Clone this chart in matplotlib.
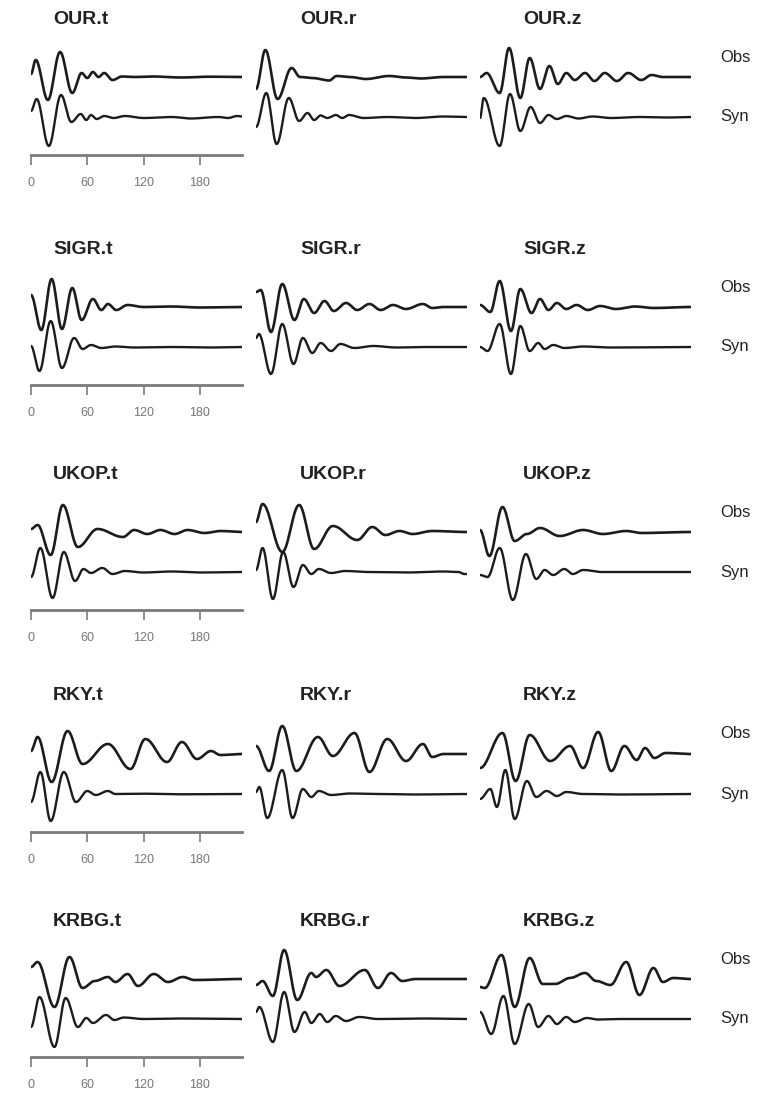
import numpy as np
import matplotlib
matplotlib.use("Agg")
import matplotlib.pyplot as plt

stations = ["OUR", "SIGR", "UKOP", "RKY", "KRBG"]
components = ["t", "r", "z"]
time_ticks = [0, 60, 120, 180]

# turning points (time in s, amplitude) of every trace
our_t_obs = [(0, 3), (5, 17), (18, -23), (31, 25), (44, -16), (54, 4), (60, -1), (66, 5), (72, 0), (78, 4),
             (87, -3), (97, 0.5), (110, 0), (130, 0.5), (160, -0.5), (190, 0.3), (225, 0)]
our_t_syn = [(0, 6), (6, 18), (19, -29), (32, 22), (43, -5), (53, 3), (59, -3), (64, 2), (70, -2), (78, 1),
             (88, -1), (100, 1), (120, -1), (150, 0), (170, -1.5), (200, 0), (210, -1), (220, 1), (225, 0.5)]
our_r_obs = [(0, -12), (10, 27), (23, -22), (38, 9), (47, 0), (60, -1), (78, -3.5), (86, 1), (100, 0),
             (117, -2), (142, 1), (160, -0.5), (175, -1.5), (200, 0), (225, 0)]
our_r_syn = [(0, -10), (11, 24), (22, -27), (35, 19), (46, -4), (55, 4), (62, -3), (69, 1.5), (76, -1), (85, 2),
             (92, -1), (99, 2), (115, -1), (140, 0), (170, -1), (200, 0.5), (225, 0)]
our_z_obs = [(0, 0), (7, 4), (21, -16), (31, 29), (43, -21), (53, 19), (64, -12), (74, 11), (83, -7), (92, 4),
             (101, -3), (112, 4), (122, -4), (133, 4), (146, -4), (158, 4), (172, -3), (183, 2), (195, 0), (225, 0)]
our_z_syn = [(0, -1), (4, 19), (21, -29), (32, 23), (43, -14), (54, 10), (64, -6), (73, 2), (82, -2), (92, 1),
             (105, -1.5), (120, 0.5), (140, -1), (170, 0), (200, -0.5), (225, 0)]

sigr_t_obs = [(0, 12), (11, -23), (22, 28), (33, -22), (44, 19), (54, -13), (66, 8), (75, -3), (82, 3), (91, -3),
              (103, 2), (120, 0), (150, 0.5), (180, -0.5), (225, 0)]
sigr_t_syn = [(0, 1), (9, -24), (21, 26), (33, -21), (46, 9), (55, -2), (64, 2), (75, -1), (90, 0.5), (110, -0.5),
              (150, 0), (190, -0.5), (225, 0)]
sigr_r_obs = [(0, 15), (5, 17), (16, -25), (28, 23), (41, -13), (51, 8), (62, -6), (73, 6), (83, -4), (96, 4),
              (108, -3), (121, 3), (133, -3), (146, 2), (160, -2), (178, 3), (188, -1), (200, 0), (225, 0)]
sigr_r_syn = [(0, 9), (3, 13), (16, -27), (28, 23), (40, -17), (50, 9), (60, -6), (69, 4), (80, -4), (90, 3),
              (105, -1), (125, 1), (150, -0.5), (180, 0), (225, 0)]
sigr_z_obs = [(0, 2), (11, -5), (21, 26), (33, -24), (43, 18), (55, -6), (64, 8), (73, -3), (82, 4), (92, -2),
              (103, 2), (115, -3), (128, 1), (145, -2), (165, 0.5), (185, -1), (225, 0)]
sigr_z_syn = [(0, 0), (8, -4), (21, 23), (33, -27), (43, 21), (53, -4), (62, 4), (69, -2), (78, 2), (90, -1),
              (110, 0.5), (140, -0.5), (225, 0)]

ukop_t_obs = [(0, 3), (7, 7), (21, -23), (34, 27), (50, -15), (71, 3), (98, -5), (110, 2), (124, -2), (138, 2),
              (153, -2), (167, 2), (185, -1), (202, 1), (225, 0)]
ukop_t_syn = [(0, -5), (10, 24), (23, -26), (35, 20), (47, -9), (56, 3), (64, -1), (76, 4), (87, -2), (100, 1),
              (120, -0.5), (150, 0.5), (180, -0.5), (225, 0)]
ukop_r_obs = [(0, 10), (7, 28), (28, -20), (46, 27), (62, -17), (82, 6), (108, -8), (124, 5), (138, -3), (153, 1),
              (167, -2), (188, 1), (225, 0)]
ukop_r_syn = [(0, 2), (7, 24), (18, -27), (29, 20), (40, -15), (50, 7), (59, -2), (67, 3), (80, -1), (95, 1),
              (120, 0), (160, -0.5), (200, 0.5), (216, 0), (222, -2), (225, -2)]
ukop_z_obs = [(0, 2), (10, -24), (24, 25), (37, -9), (50, -2), (64, 4), (85, -4), (110, 2), (131, -2), (156, 1),
              (172, -1), (225, 0)]
ukop_z_syn = [(0, -3), (8, -5), (21, 24), (35, -28), (49, 18), (60, -7), (69, 2), (78, -3), (90, 3), (99, -2),
              (110, 2), (130, 0), (225, 0)]

rky_t_obs = [(0, 3), (7, 17), (22, -28), (39, 23), (55, -10), (82, 10), (106, -15), (122, 15), (145, -8),
             (161, 12), (177, -5), (192, 3), (202, -1), (225, 0)]
rky_t_syn = [(0, -8), (10, 22), (21, -27), (35, 22), (48, -8), (60, 3), (69, -1), (82, 3), (90, 0), (120, 0.3),
             (160, -0.3), (225, 0)]
rky_r_obs = [(0, 8), (14, -17), (28, 28), (43, -17), (66, 17), (82, -2), (105, 21), (121, -18), (140, 15),
             (160, -7), (178, 10), (188, -3), (200, 0), (225, 0)]
rky_r_syn = [(0, 2), (3.5, 7), (12, -24), (28, 24), (39, -24), (50, 5), (59, -3), (67, 3), (80, -1), (100, 0.5),
             (130, 0), (170, -0.5), (225, 0)]
rky_z_obs = [(0, -14), (24, 21), (38, -27), (53, 19), (75, -7), (96, 8), (110, -14), (126, 22), (140, -17),
             (154, 8), (167, -6), (176, 6), (186, -4), (198, 1), (225, 0)]
rky_z_syn = [(0, -5), (11, 5), (18, -13), (27, 24), (37, -25), (50, 13), (60, -3), (71, 3), (82, -2), (92, 2),
             (110, 0), (150, -0.5), (225, 0)]

krbg_t_obs = [(0, 12), (7, 17), (25, -28), (41, 22), (55, -9), (68, -2), (82, 2), (90, -3), (103, 5), (114, -7),
              (131, 5), (146, -3), (162, 2), (174, -1), (225, 0)]
krbg_t_syn = [(0, -8), (9, 22), (25, -28), (37, 21), (50, -8), (59, 1), (66, -4), (80, 4), (89, -1), (99, 1.5),
              (120, 0), (160, 0.5), (225, 0)]
krbg_r_obs = [(0, -6), (7, -2), (18, -17), (30, 29), (44, -21), (59, 6), (64, 2), (75, 9), (89, -7), (116, 9),
              (130, -9), (144, 6), (156, -2), (170, 0), (225, 0)]
krbg_r_syn = [(0, 7), (3.5, 12), (18, -23), (30, 27), (41, -13), (52, 7), (59, -4), (68, 5), (76, -3), (85, 3),
              (96, -2), (110, 2), (130, 0), (180, 0.5), (225, 0)]
krbg_z_obs = [(0, -8), (5, -9), (23, 24), (37, -28), (53, 21), (67, -5), (80, -5), (96, 1), (112, 6), (124, -2),
              (139, -6), (156, 17), (170, -16), (185, 11), (195, -3), (206, 1), (225, 0)]
krbg_z_syn = [(0, 7), (12, -15), (25, 23), (37, -25), (52, 15), (62, -8), (73, 3), (82, -5), (92, 2), (101, -3),
              (114, 1), (125, -0.5), (150, 0), (225, 0)]

traces = {
    "OUR": [(our_t_obs, our_t_syn), (our_r_obs, our_r_syn), (our_z_obs, our_z_syn)],
    "SIGR": [(sigr_t_obs, sigr_t_syn), (sigr_r_obs, sigr_r_syn), (sigr_z_obs, sigr_z_syn)],
    "UKOP": [(ukop_t_obs, ukop_t_syn), (ukop_r_obs, ukop_r_syn), (ukop_z_obs, ukop_z_syn)],
    "RKY": [(rky_t_obs, rky_t_syn), (rky_r_obs, rky_r_syn), (rky_z_obs, rky_z_syn)],
    "KRBG": [(krbg_t_obs, krbg_t_syn), (krbg_r_obs, krbg_r_syn), (krbg_z_obs, krbg_z_syn)],
}


def trace_curve(points, n=25):
    # half-cosine swing between neighbouring turning points
    tt, yy = [], []
    for (t0, a0), (t1, a1) in zip(points[:-1], points[1:]):
        u = np.linspace(0, 1, n, endpoint=False)
        tt.append(t0 + (t1 - t0) * u)
        yy.append(a0 + (a1 - a0) * (1 - np.cos(np.pi * u)) / 2)
    tt.append([points[-1][0]])
    yy.append([points[-1][1]])
    return np.concatenate(tt), np.concatenate(yy)


W, H = 769, 1093
plt.rcParams['font.family'] = ['Liberation Sans', 'DejaVu Sans']
fig = plt.figure(figsize=(W / 100, H / 100), dpi=100)

col_left = [31, 256, 480]
col_width = 211
title_x = [53, 300, 523]
row_base = [77, 307, 532, 754, 979]
syn_shift = -40
line_col = '#1c1c1c'

for r, st in enumerate(stations):
    base = row_base[r]
    for c, comp in enumerate(components):
        ax = fig.add_axes([col_left[c] / W, 1 - (base + 78) / H, col_width / W, 113 / H])
        ax.set_xlim(0, 225)
        ax.set_ylim(-78, 35)
        obs, syn = traces[st][c]
        t, a = trace_curve(obs)
        ax.plot(t, a, color=line_col, lw=1.9, solid_capstyle='round', solid_joinstyle='round')
        t, a = trace_curve(syn)
        ax.plot(t, a + syn_shift, color=line_col, lw=1.7, solid_capstyle='round', solid_joinstyle='round')
        for s in ['top', 'right', 'left']:
            ax.spines[s].set_visible(False)
        ax.set_yticks([])
        if c == 0:
            ax.spines['bottom'].set_color('#7a7a7a')
            ax.spines['bottom'].set_linewidth(2)
            ax.set_xticks(time_ticks)
            ax.tick_params(axis='x', length=7, width=1.2, color='#7a7a7a',
                           labelsize=9, labelcolor='#777777', pad=9)
        else:
            ax.spines['bottom'].set_visible(False)
            ax.set_xticks([])
        fig.text(title_x[c] / W, 1 - (base - 58) / H, st + "." + comp,
                 fontsize=14, fontweight='bold', color='#222222', ha='left', va='center')
    fig.text(720 / W, 1 - (base - 20) / H, "Obs", fontsize=12, color='#222222', ha='left', va='center')
    fig.text(720 / W, 1 - (base - syn_shift) / H, "Syn", fontsize=12, color='#222222', ha='left', va='center')

fig.savefig("out.png", dpi=100)
